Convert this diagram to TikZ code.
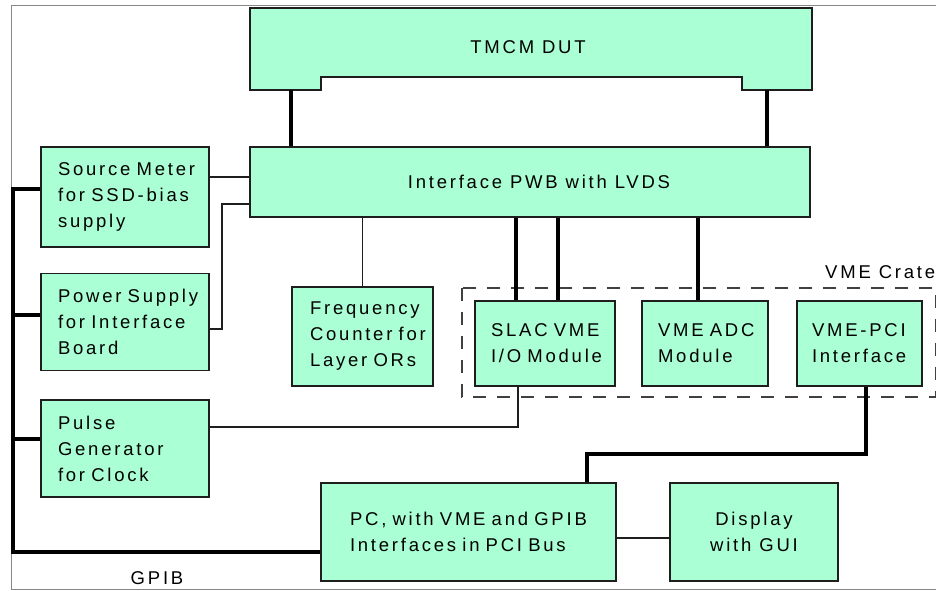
\documentclass[tikz,border=0pt]{standalone}
\usepackage{fontspec}
\setmainfont{Liberation Sans}[LetterSpace=15]
\newcommand\dgfont{\fontsize{18.5pt}{26pt}\selectfont\hyphenpenalty=10000\exhyphenpenalty=10000}
\definecolor{mint}{RGB}{170,255,212}
\definecolor{boxline}{RGB}{30,30,30}
\definecolor{framegray}{RGB}{135,135,135}
\begin{document}
\begin{tikzpicture}[x=1pt,y=-1pt,
  box/.style={draw=boxline, fill=mint, line width=1.8pt, inner xsep=0pt, inner ysep=0pt, font=\dgfont},
  wire/.style={draw=boxline, line width=1.6pt},
  bus/.style={draw=black, line width=3.6pt},
  crate/.style={draw=boxline!85, line width=1.5pt, dash pattern=on 13pt off 11pt},
  lbl/.style={font=\dgfont, inner sep=0pt}]
\useasboundingbox (0,0) rectangle (936,590);
% outer frame
\draw[framegray, line width=1pt] (945,5) -- (11,5) -- (11,589) -- (945,589);
% VME crate
\draw[crate] (462,288) rectangle (936,397);
\node[lbl, anchor=west] (cratelbl) at (825,272) {VME Crate};
% TMCM DUT
\draw[draw=boxline, fill=mint, line width=1.8pt]
  (250,8) -- (812,8) -- (812,90) -- (742,90) -- (742,77) -- (321,77) -- (321,90) -- (250,90) -- cycle;
\node[lbl] (dut) at (528,47) {TMCM DUT};
% boxes
\node[box, minimum width=560pt, minimum height=70pt] (iface) at (530,182) {\hspace*{18pt}Interface PWB with LVDS};
\node[box, minimum width=168pt, minimum height=100pt, text width=134pt, align=left] (src) at (125,197)
  {\mbox{Source Meter}\\\mbox{for SSD-bias}\\supply};
\node[box, minimum width=168pt, minimum height=97pt, text width=134pt, align=left] (psu) at (125,322)
  {\mbox{Power Supply}\\\mbox{for Interface}\\Board};
\node[box, minimum width=168pt, minimum height=97pt, text width=134pt, align=left] (pulse) at (125,448.5)
  {Pulse\\Generator\\\mbox{for Clock}};
\node[box, minimum width=141pt, minimum height=99pt, text width=105pt, align=left] (freq) at (362.5,336.5)
  {Frequency\\\mbox{Counter for}\\\mbox{Layer ORs}};
\node[box, minimum width=140pt, minimum height=85pt, text width=108pt, align=left] (slac) at (545,343.5)
  {\mbox{SLAC VME}\\\mbox{I/O Module}};
\node[box, minimum width=126pt, minimum height=85pt, text width=94pt, align=left] (adc) at (705,343.5)
  {\mbox{VME ADC}\\Module};
\node[box, minimum width=125pt, minimum height=85pt, text width=95pt, align=left] (vmepci) at (859.5,343.5)
  {\mbox{VME-PCI}\\Interface};
\node[box, minimum width=295pt, minimum height=98pt, text width=237pt, align=left] (pc) at (468.5,532)
  {\mbox{PC, with VME and GPIB}\\\mbox{Interfaces in PCI Bus}};
\node[box, minimum width=168pt, minimum height=98pt, align=center] (disp) at (754,532)
  {Display\\with GUI};
\node[lbl] (gpib) at (157,578) {GPIB};
% helper coordinates
\coordinate (dl) at (291,90);
\coordinate (dr) at (767,90);
\coordinate (sm) at (0,177);
\coordinate (pa) at (0,329);
\coordinate (pb) at (222,204);
\coordinate (t1) at (516,0);
\coordinate (t2) at (558,0);
\coordinate (t3) at (698,0);
\coordinate (k1) at (518,427);
\coordinate (v1) at (866,454);
\coordinate (v2) at (587,454);
\coordinate (dpy) at (0,538);
\coordinate (g0) at (13,189);
\coordinate (g1) at (13,552);
\coordinate (y2) at (0,315);
\coordinate (y3) at (0,439);
% DUT to interface
\draw[bus] (dl) -- (dl |- iface.north);
\draw[bus] (dr) -- (dr |- iface.north);
% source meter, power supply to interface
\draw[wire] (src.east |- sm) -- (iface.west |- sm);
\draw[wire] (psu.east |- pa) -| (pb) -- (iface.west |- pb);
% interface to frequency counter
\draw[wire] (freq.north) -- (freq.north |- iface.south);
% interface to VME modules
\draw[bus] (iface.south -| t1) -- (slac.north -| t1);
\draw[bus] (iface.south -| t2) -- (slac.north -| t2);
\draw[bus] (iface.south -| t3) -- (adc.north -| t3);
% SLAC to pulse generator
\draw[wire] (slac.south -| k1) -- (k1) -- (k1 -| pulse.east);
% VME-PCI to PC
\draw[bus, line join=miter] (vmepci.south -| v1) -- (v1) -- (v2) -- (pc.north -| v2);
% PC to display
\draw[wire] (pc.east |- dpy) -- (disp.west |- dpy);
% GPIB bus
\draw[bus, line join=miter] (src.west |- g0) -- (g0) -- (g1) -- (pc.west |- g1);
\draw[bus] (g0 |- y2) -- (psu.west |- y2);
\draw[bus] (g0 |- y3) -- (pulse.west |- y3);
\end{tikzpicture}
\end{document}
